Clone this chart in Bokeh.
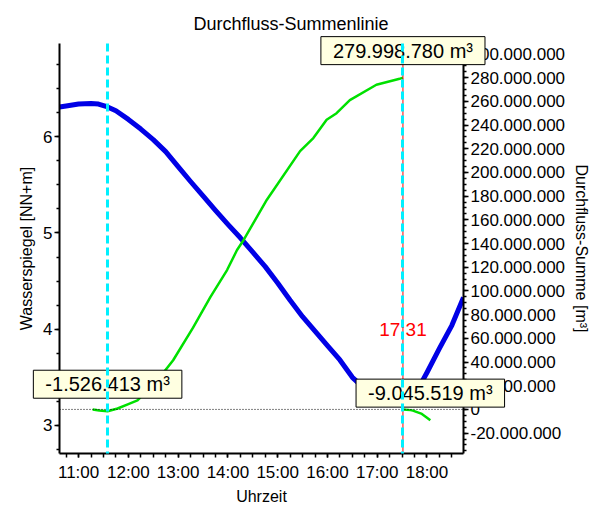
import pandas as pd
from bokeh.plotting import figure
from bokeh.models import (LinearAxis, Range1d, Span, Label, FixedTicker,
                          SingleIntervalTicker, DatetimeTickFormatter,
                          CustomJSTickFormatter, ColumnDataSource)
from bokeh.core.properties import value
from bokeh.embed import file_html
from bokeh.resources import INLINE

DAY = "2012-06-15"

# ---- Data ----------------------------------------------------------------
# Wasserspiegel [NN+m]
level_time = ["10:37", "10:45", "11:00", "11:15", "11:24", "11:35", "11:45",
              "12:00", "12:15", "12:30", "12:45", "13:00", "13:15", "13:30",
              "13:45", "14:00", "14:15", "14:30", "14:45", "15:00", "15:15",
              "15:30", "15:45", "16:00", "16:15", "16:30", "16:45", "17:00",
              "17:15", "17:30", "17:45", "17:55", "18:00", "18:15", "18:30",
              "18:44"]
level_value = [6.31, 6.32, 6.34, 6.345, 6.34, 6.31, 6.27,
               6.18, 6.08, 5.97, 5.845, 5.69, 5.535, 5.385,
               5.235, 5.09, 4.95, 4.80, 4.65, 4.48, 4.30,
               4.13, 3.98, 3.83, 3.68, 3.50, 3.38, 3.31,
               3.27, 3.29, 3.36, 3.47, 3.55, 3.80, 4.04,
               4.33]

# Durchfluss-Summe [m³], segment 1 (cursor 11:35 -> 17:31)
sum1_time = ["11:17", "11:25", "11:35", "11:47", "12:00", "12:11", "12:35",
             "12:54", "13:18", "13:39", "13:59", "14:11", "14:19", "14:47",
             "15:27", "15:43", "15:59", "16:11", "16:27", "16:59", "17:27",
             "17:31"]
sum1_value = [0, -1_000_000, -1_526_413, 800_000, 4_500_000, 7_600_000,
              24_500_000, 41_500_000, 69_000_000, 95_000_000, 117_600_000,
              134_500_000, 143_000_000, 177_000_000, 218_000_000,
              229_000_000, 244_500_000, 250_000_000, 261_000_000,
              274_000_000, 279_000_000, 279_998_780]

# Durchfluss-Summe [m³], segment 2 (after cursor 17:31)
sum2_time = ["17:31", "17:40", "17:43", "17:53", "18:00", "18:04"]
sum2_value = [0, -600_000, -1_000_000, -3_500_000, -7_000_000, -9_045_519]

cursor_times = ["11:35", "17:31"]
x_ticks = ["11:00", "12:00", "13:00", "14:00", "15:00", "16:00", "17:00",
           "18:00"]


def ms(t):
    return pd.Timestamp(f"{DAY} {t}").value // 10**6


def de(v):
    return f"{v:,.0f}".replace(",", ".") + " m³"


FONT = "Liberation Sans"

p = figure(width=593, height=507, x_axis_type="datetime",
           output_backend="svg", toolbar_location=None,
           min_border_left=59, min_border_right=129,
           min_border_top=43, min_border_bottom=54,
           x_range=Range1d(ms("10:37"), ms("18:44")),
           y_range=Range1d(2.708, 6.969))
p.extra_y_ranges = {"sum": Range1d(-37.2e6, 308.8e6)}
p.outline_line_color = None
p.xgrid.visible = False
p.ygrid.visible = False
p.background_fill_color = "white"
p.border_fill_color = "white"

p.title.text = "Durchfluss-Summenlinie"
p.title.align = "left"
p.title.offset = 134
p.title.text_font = FONT
p.title.text_font_size = "18px"
p.title.text_font_style = "normal"
p.title.text_color = "black"
p.title.standoff = 20

# x axis
xa = p.xaxis[0]
minor = list(range(ms("10:45"), ms("18:31"), 15 * 60 * 1000))
xa.ticker = FixedTicker(ticks=[ms(t) for t in x_ticks], minor_ticks=minor)
xa.formatter = DatetimeTickFormatter(hours="%H:%M", hourmin="%H:%M",
                                     minutes="%H:%M", minsec="%H:%M",
                                     days="%H:%M")
xa.axis_label = "Uhrzeit"

# left axis
ya = p.yaxis[0]
ya.ticker = SingleIntervalTicker(interval=1, num_minor_ticks=4)
ya.axis_label = "Wasserspiegel [NN+m]"

# right axis
ra = LinearAxis(y_range_name="sum", axis_label="Durchfluss-Summe [m³]")
ra.ticker = SingleIntervalTicker(interval=20_000_000, num_minor_ticks=4)
ra.formatter = CustomJSTickFormatter(code="""
const n = Math.round(tick);
const s = Math.abs(n).toString().replace(/\\B(?=(\\d{3})+(?!\\d))/g, ".");
return (n < 0 ? "-" : "") + s;
""")
p.add_layout(ra, "right")

for ax in (xa, ya, ra):
    ax.axis_line_width = 2
    ax.axis_line_color = "black"
    ax.major_tick_in = 0
    ax.minor_tick_in = 0
    ax.major_tick_out = 5
    ax.minor_tick_out = 3
    ax.major_tick_line_width = 1.5
    ax.minor_tick_line_width = 1.5
    ax.major_label_text_font = FONT
    ax.major_label_text_font_size = "17px"
    ax.major_label_text_color = "black"
    ax.major_label_standoff = 2
    ax.axis_label_text_font = FONT
    ax.axis_label_text_font_size = "16px"
    ax.axis_label_text_font_style = "normal"
    ax.axis_label_text_color = "black"
    ax.axis_label_standoff = 5
xa.major_tick_out = 4
xa.minor_tick_out = 4
xa.major_label_standoff = 5
xa.axis_label_standoff = 3

# series
lvl = ColumnDataSource(dict(x=[ms(t) for t in level_time], y=level_value))
s1 = ColumnDataSource(dict(x=[ms(t) for t in sum1_time], y=sum1_value))
s2 = ColumnDataSource(dict(x=[ms(t) for t in sum2_time], y=sum2_value))

p.line("x", "y", source=lvl, line_color="#0000E6", line_width=5,
       line_join="round")
p.line("x", "y", source=s1, y_range_name="sum", line_color="#00E000",
       line_width=2.5, line_join="round")
p.line("x", "y", source=s2, y_range_name="sum", line_color="#00E000",
       line_width=2.5, line_join="round")

# zero line (right axis)
p.add_layout(Span(location=0, dimension="width", y_range_name="sum",
                  line_color="black", line_width=1, line_dash="1 2"))
# red cursor
p.add_layout(Span(location=ms(cursor_times[1]), dimension="height",
                  line_color="red", line_width=1))
p.add_layout(Label(x=ms(cursor_times[1]), y=4.0, text=cursor_times[1],
                   text_color="red", text_font=FONT, text_font_size="19px",
                   text_align="center", text_baseline="middle"))

# value labels (text glyphs on the overlay level, not clipped to the frame)
lab_pts = [(sum1_time[2], sum1_value[2]), (sum1_time[-1], sum1_value[-1]),
           (sum2_time[-1], sum2_value[-1])]
lab_src = ColumnDataSource(dict(x=[ms(t) for t, _ in lab_pts],
                                y=[v for _, v in lab_pts],
                                text=[de(v) for _, v in lab_pts]))
p.text("x", "y", text="text", source=lab_src, y_range_name="sum",
       y_offset=-27, text_align="center", text_baseline="middle",
       text_font=value(FONT), text_font_size="20px", text_color="black",
       background_fill_color="#FFFFE1", border_line_color="black",
       border_line_width=1, padding=dict(left=12, right=12, top=3, bottom=3),
       level="overlay")

# cyan cursors
p.vspan(x=[ms(t) for t in cursor_times], line_color="#00F0FF", line_width=3,
        line_dash="8 4", level="overlay")

open("out.html", "w").write(file_html(p, INLINE))
